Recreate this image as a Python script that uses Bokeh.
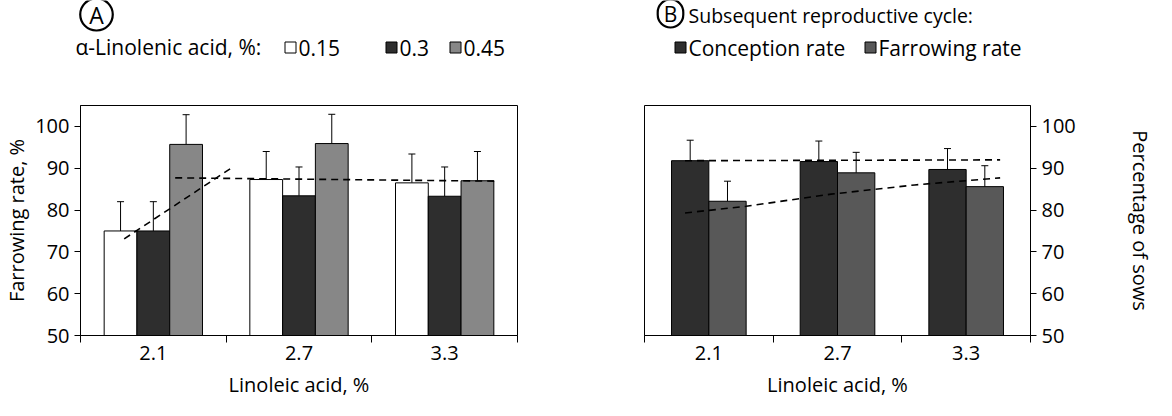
from bokeh.plotting import figure
from bokeh.models import (ColumnDataSource, Range1d, FixedTicker, Label,
                          Whisker, TeeHead)
from bokeh.transform import dodge
from bokeh.layouts import row, column
from bokeh.embed import file_html
from bokeh.resources import INLINE

# ---------------- data ----------------
linoleic = ["2.1", "2.7", "3.3"]
alpha_levels = ["0.15", "0.3", "0.45"]
# Panel A: farrowing rate (%) by alpha-linolenic acid level
farrow_015 = [75.0, 87.3, 86.5]
farrow_015_err = [82.0, 94.0, 93.4]
farrow_03 = [75.0, 83.4, 83.3]
farrow_03_err = [82.0, 90.3, 90.3]
farrow_045 = [95.7, 95.9, 87.0]
farrow_045_err = [102.8, 102.9, 94.0]
# Panel A trend lines (category position, %)
trendA1_x = [0.80, 1.555]
trendA1_y = [73.1, 90.5]
trendA2_x = [1.15, 3.37]
trendA2_y = [87.7, 86.9]

# Panel B: subsequent reproductive cycle
series_b = ["Conception rate", "Farrowing rate"]
conception = [91.8, 91.6, 89.7]
conception_err = [96.7, 96.5, 94.7]
farrowing_b = [82.1, 88.9, 85.6]
farrowing_b_err = [86.9, 93.8, 90.6]
trendB1_x = [0.815, 3.264]
trendB1_y = [91.8, 92.0]
trendB2_x = [0.815, 1.29, 1.95, 2.60, 3.264]
trendB2_y = [79.3, 80.9, 83.8, 86.0, 87.7]

y_ticks = [50, 60, 70, 80, 90, 100]

FONT = "Open Sans"
FS = "20px"
FSL = "21px"
WHITE = "#ffffff"
DARK = "#2e2e2e"
GRAY_A = "#878787"
GRAY_B = "#585858"

pos = [1, 2, 3]
HEAD_H = 104
MAIN_H = 296


def style_x_axis(p):
    ax = p.xaxis[0]
    ax.ticker = FixedTicker(ticks=pos, minor_ticks=[0.5, 1.5, 2.5, 3.5])
    ax.major_label_overrides = {i: lab for i, lab in zip(pos, linoleic)}
    ax.major_tick_line_color = None
    ax.minor_tick_in = 0
    ax.minor_tick_out = 7
    ax.minor_tick_line_color = "black"
    ax.axis_line_color = "black"
    ax.major_label_text_font = FONT
    ax.major_label_text_font_size = FS
    ax.major_label_text_color = "black"
    ax.major_label_standoff = 3
    ax.axis_label = "Linoleic acid, %"
    ax.axis_label_text_font = FONT
    ax.axis_label_text_font_size = FS
    ax.axis_label_text_font_style = "normal"
    ax.axis_label_text_color = "black"
    ax.axis_label_standoff = 8


def style_y_axis(ax, label, standoff):
    ax.ticker = FixedTicker(ticks=y_ticks)
    ax.major_tick_in = 0
    ax.major_tick_out = 6
    ax.minor_tick_line_color = None
    ax.axis_line_color = "black"
    ax.major_label_text_font = FONT
    ax.major_label_text_font_size = FS
    ax.major_label_text_color = "black"
    ax.major_label_standoff = 5
    ax.axis_label = label
    ax.axis_label_text_font = FONT
    ax.axis_label_text_font_size = FS
    ax.axis_label_text_font_style = "normal"
    ax.axis_label_text_color = "black"
    ax.axis_label_standoff = standoff


def bars(p, src, xoff, width, top, err, color):
    p.vbar(x=dodge("x", xoff, range=p.x_range), top=top, bottom=50, width=width,
           source=src, fill_color=color, line_color="black", line_width=1)
    w = Whisker(source=src, base=dodge("x", xoff, range=p.x_range), lower=top, upper=err,
                line_color="black", line_width=1,
                upper_head=TeeHead(size=7, line_color="black", line_width=1),
                lower_head=None)
    p.add_layout(w)


def main_fig(width, left, right, yloc):
    p = figure(width=width, height=MAIN_H, x_range=Range1d(0.5, 3.5), y_range=Range1d(50, 105),
               output_backend="svg", toolbar_location=None, y_axis_location=yloc,
               min_border_left=left, min_border_right=right, min_border_top=1,
               min_border_bottom=61)
    p.grid.visible = False
    p.outline_line_color = "black"
    p.outline_line_width = 1
    p.background_fill_color = "white"
    p.border_fill_color = "white"
    return p


def head_fig(width):
    h = figure(width=width, height=HEAD_H, x_range=Range1d(0, width), y_range=Range1d(0, HEAD_H),
               output_backend="svg", toolbar_location=None, x_axis_type=None, y_axis_type=None,
               min_border=0)
    h.grid.visible = False
    h.outline_line_color = None
    h.background_fill_color = "white"
    h.border_fill_color = "white"
    return h


def circled(h, letter, x, y, fs, padx, radius):
    h.add_layout(Label(x=x, y=y, text=letter,
                       text_font=FONT, text_font_size=fs, text_color="black",
                       text_align="center", text_baseline="middle",
                       border_line_color="black", border_line_width=2.2,
                       padding=(padx, 0), border_radius=radius))


def swatch(h, label, color, x, y, fs):
    # legend key: small square plus its text
    h.rect(x=[x], y=[y], width=11, height=11, fill_color=color, line_color="black",
           line_width=1)
    h.add_layout(Label(x=x + 8, y=y, text=label, text_font=FONT, text_font_size=fs,
                       text_color="black", text_baseline="middle"))


# ---------------- Panel A ----------------
srcA = ColumnDataSource(dict(x=pos, a=farrow_015, ae=farrow_015_err,
                             b=farrow_03, be=farrow_03_err,
                             c=farrow_045, ce=farrow_045_err))
pA = main_fig(582, 77, 65, "left")
bw = 0.225
bars(pA, srcA, -bw, bw, "a", "ae", WHITE)
bars(pA, srcA, 0.0, bw, "b", "be", DARK)
bars(pA, srcA, bw, bw, "c", "ce", GRAY_A)
pA.line(trendA1_x, trendA1_y, line_color="black", line_width=1.6, line_dash="7 5")
pA.line(trendA2_x, trendA2_y, line_color="black", line_width=1.6, line_dash="7 5")
style_x_axis(pA)
style_y_axis(pA.yaxis[0], "Farrowing rate, %", 2)

hA = head_fig(582)
circled(hA, "A", 96, 90, "23px", 9, 16)
hA.add_layout(Label(x=75, y=58, text="α-Linolenic acid, %:", text_font=FONT,
                    text_font_size=FSL, text_color="black", text_baseline="middle"))
swatch(hA, alpha_levels[0], WHITE, 290, 57, FSL)
swatch(hA, alpha_levels[1], DARK, 391, 57, FSL)
swatch(hA, alpha_levels[2], GRAY_A, 455, 57, FSL)

# ---------------- Panel B ----------------
srcB = ColumnDataSource(dict(x=pos, a=conception, ae=conception_err,
                             b=farrowing_b, be=farrowing_b_err))
pB = main_fig(574, 62, 122, "right")
bwB = 0.29
bars(pB, srcB, -bwB / 2, bwB, "a", "ae", DARK)
bars(pB, srcB, bwB / 2, bwB, "b", "be", GRAY_B)
pB.line(trendB1_x, trendB1_y, line_color="black", line_width=1.6, line_dash="7 5")
pB.line(trendB2_x, trendB2_y, line_color="black", line_width=1.6, line_dash="7 5")
style_x_axis(pB)
style_y_axis(pB.yaxis[0], "Percentage of sows", 48)

hB = head_fig(574)
circled(hB, "B", 88, 91, "21px", 6, 14)
hB.add_layout(Label(x=106, y=89, text="Subsequent reproductive cycle:", text_font=FONT,
                    text_font_size="19.5px", text_color="black", text_baseline="middle"))
swatch(hB, series_b[0], DARK, 98, 57, FSL)
swatch(hB, series_b[1], GRAY_B, 288, 57, FSL)

layout = column(row(hA, hB), row(pA, pB))
open("out.html", "w").write(file_html(layout, INLINE))
